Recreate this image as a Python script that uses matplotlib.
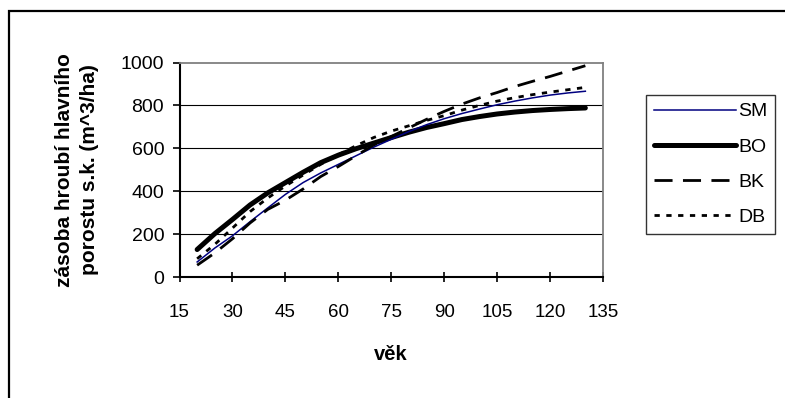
import matplotlib
matplotlib.use("Agg")
import matplotlib.pyplot as plt
from matplotlib.patches import Rectangle

plt.rcParams["font.family"] = ["Liberation Sans", "DejaVu Sans"]
plt.rcParams["lines.scale_dashes"] = False

# vek porostu (roky)
age = [20, 25, 30, 35, 40, 45, 50, 55, 60, 65, 70, 75,
       80, 85, 90, 95, 100, 105, 110, 115, 120, 125, 130]

# zasoba hroubi hlavniho porostu s.k. (m^3/ha)
sm = [70, 135, 192, 258, 322, 385, 440, 485, 525, 565, 605, 642,
      678, 710, 738, 762, 783, 803, 820, 835, 848, 858, 866]
bo = [128, 202, 268, 336, 392, 440, 488, 533, 568, 598, 624, 650,
      675, 697, 715, 734, 748, 760, 769, 776, 781, 785, 788]
bk = [55, 112, 178, 252, 315, 358, 410, 468, 515, 565, 615, 655,
      695, 735, 772, 806, 835, 860, 888, 912, 935, 960, 985]
db = [85, 152, 228, 305, 368, 424, 475, 525, 570, 612, 650, 680,
      705, 730, 752, 778, 800, 820, 836, 850, 862, 873, 884]

series = ["SM", "BO", "BK", "DB"]
x_ticks = [15, 30, 45, 60, 75, 90, 105, 120, 135]
y_ticks = [0, 200, 400, 600, 800, 1000]

W, H = 785, 398
fig = plt.figure(figsize=(W / 100, H / 100), dpi=100)
fig.patch.set_facecolor("white")

# ramecek kolem celeho grafu
fig.patches.append(Rectangle((9 / W, -0.2), 1.2, 1 - 11 / H + 0.2,
                             transform=fig.transFigure, fill=False,
                             edgecolor="black", linewidth=1.6))

left, right, top, bottom = 179.5, 603, 62.5, 277
ax = fig.add_axes([left / W, 1 - bottom / H, (right - left) / W, (bottom - top) / H])

ax.plot(age, sm, color="#000080", linewidth=1.1, label=series[0], zorder=3)
ax.plot(age, bo, color="black", linewidth=3.6, label=series[1],
        solid_capstyle="round", zorder=2)
ax.plot(age, bk, color="black", linewidth=2.0, linestyle=(0, (13, 7.5)),
        dash_capstyle="butt", label=series[2], zorder=4)
ax.plot(age, db, color="black", linewidth=2.0, linestyle=(0, (3.8, 4.7)),
        dash_capstyle="butt", label=series[3], zorder=4)

ax.set_xlim(15, 135)
ax.set_ylim(0, 1000)
ax.set_xticks(x_ticks)
ax.set_yticks(y_ticks)

for v in y_ticks[1:-1]:
    ax.axhline(v, color="black", linewidth=0.8, zorder=1)

for s in ["top", "right"]:
    ax.spines[s].set_color("#808080")
    ax.spines[s].set_linewidth(1.3)
for s in ["left", "bottom"]:
    ax.spines[s].set_color("black")
    ax.spines[s].set_linewidth(1.5)

ax.tick_params(axis="y", direction="out", length=5, width=1.2, pad=6,
               labelsize=14)
ax.tick_params(axis="x", direction="inout", length=7, width=1.2, pad=16,
               labelsize=13.5)

fig.text(391 / W, 1 - 355 / H, "věk", ha="center", va="center",
         fontsize=14.5, fontweight="bold")
fig.text(77 / W, 1 - 170 / H, "zásoba hroubí hlavního\nporostu s.k. (m^3/ha)",
         rotation=90, ha="center", va="center", multialignment="center",
         fontsize=15, fontweight="bold", linespacing=1.35)

leg = ax.legend(loc="upper left", bbox_to_anchor=(646 / W, 1 - 95 / H),
                bbox_transform=fig.transFigure, frameon=True, fancybox=False,
                edgecolor="black", fontsize=14, handlelength=4.25,
                handletextpad=0.1, labelspacing=0.9, borderpad=0.4,
                borderaxespad=0)
leg.get_frame().set_linewidth(1.0)

fig.savefig("out.png", dpi=100, facecolor="white")
